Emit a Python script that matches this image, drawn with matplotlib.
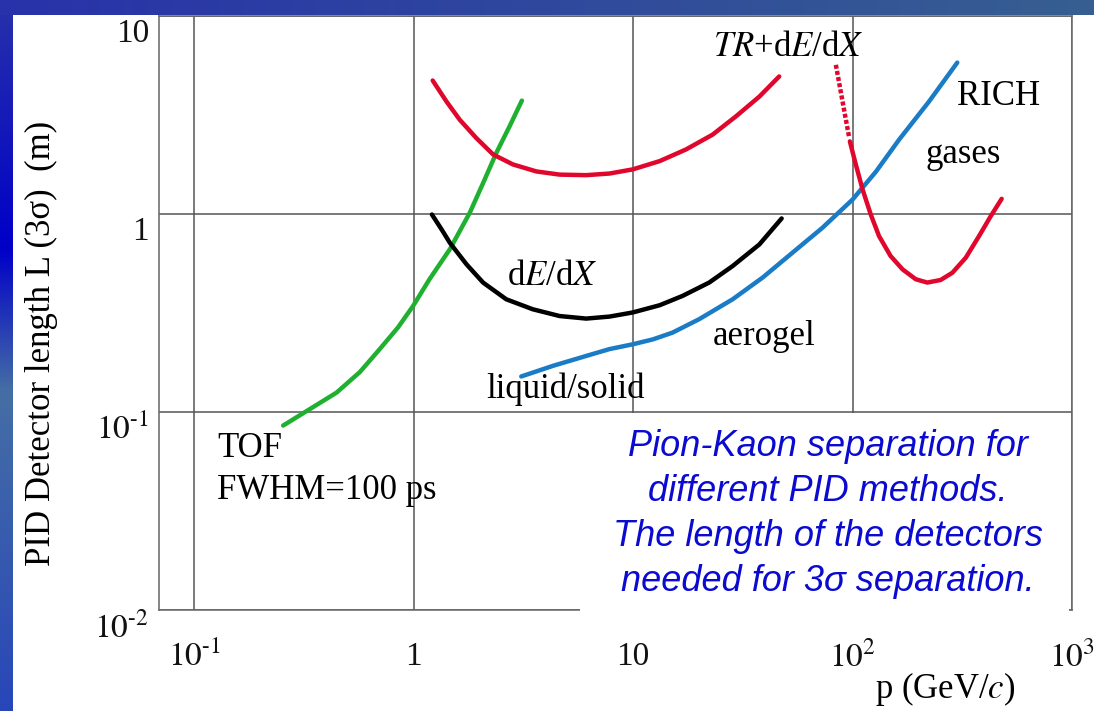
import matplotlib

matplotlib.use("Agg")
import matplotlib.pyplot as plt
import numpy as np
from matplotlib.patches import Rectangle
from matplotlib.ticker import FixedLocator, FuncFormatter, NullLocator
from matplotlib.transforms import ScaledTranslation

plt.rcParams["font.family"] = ["Liberation Serif", "DejaVu Serif"]
plt.rcParams["mathtext.fontset"] = "stix"

# Momentum p (GeV/c) and detector length L (m)
tof_p = [0.254, 0.336, 0.445, 0.568, 0.700, 0.848, 0.993, 1.18, 1.46, 1.80,
         2.07, 2.38, 2.73, 3.11]
tof_L = [0.0859, 0.104, 0.126, 0.160, 0.209, 0.269, 0.345, 0.471, 0.667,
         1.02, 1.44, 2.05, 2.78, 3.76]

tr_p = [1.22, 1.41, 1.62, 1.93, 2.30, 2.83, 3.62, 4.62, 6.11, 7.80, 9.96,
        13.2, 17.4, 23.0, 29.4, 37.6, 46.3]
tr_L = [4.75, 3.72, 3.01, 2.43, 2.01, 1.79, 1.65, 1.59, 1.58, 1.61, 1.69,
        1.86, 2.13, 2.53, 3.13, 3.94, 4.98]

dedx_p = [1.21, 1.34, 1.46, 1.74, 2.07, 2.64, 3.49, 4.62, 6.11, 7.80, 9.96,
          13.2, 16.8, 22.2, 28.4, 37.6, 47.5]
dedx_L = [1.0, 0.840, 0.720, 0.560, 0.453, 0.373, 0.332, 0.307, 0.298, 0.305,
          0.320, 0.348, 0.388, 0.453, 0.549, 0.706, 0.955]

rich_p = [3.09, 4.31, 6.11, 7.80, 9.96, 12.3, 15.1, 20.0, 28.4, 38.9, 53.2,
          72.9, 100, 128, 163, 223, 300]
rich_L = [0.152, 0.172, 0.193, 0.209, 0.221, 0.234, 0.253, 0.296, 0.373,
          0.480, 0.641, 0.857, 1.19, 1.65, 2.39, 3.72, 5.85]

gas_dash_p = [83.9, 90.0, 96.6]
gas_dash_L = [5.70, 3.72, 2.43]
gas_p = [97.2, 103, 111, 121, 132, 149, 169, 194, 219, 252, 285, 328, 377,
         426, 478]
gas_L = [2.34, 1.82, 1.34, 1.0, 0.778, 0.617, 0.528, 0.471, 0.453, 0.467,
         0.508, 0.605, 0.778, 0.980, 1.20]

x_ticks = [0.1, 1, 10, 100, 1000]
x_labels = [r"$10^{\text{-}1}$", "1", "10", r"$10^{2}$", r"$10^{3}$"]
y_ticks = [0.01, 0.1, 1, 10]
y_labels = [r"$10^{\text{-}2}$", r"$10^{\text{-}1}$", "1", "10"]

RED = "#e0062c"
GREEN = "#1fb030"
BLUE = "#1a7cc6"

fig = plt.figure(figsize=(10.94, 7.11), dpi=100)

# slide background: blue gradient frame with a white panel
bg = fig.add_axes([0, 0, 1, 1], zorder=-10)
h, w = 711, 1094
yy = np.linspace(0, 1, h)
xx = np.linspace(0, 1, w)
left_col = np.stack([
    np.interp(yy, [0, 0.35, 0.55, 1], c)
    for c in ([40, 0, 70, 40], [50, 0, 110, 70], [170, 200, 165, 185])
], axis=1)
top_row = np.stack([
    np.interp(xx, [0, 1], c) for c in ([40, 55], [50, 95], [170, 145])
], axis=1)
img = np.ones((h, w, 3)) * 255
img[:, :13, :] = left_col[:, None, :]
img[:15, :, :] = top_row[None, :, :]
bg.imshow(img.astype(np.uint8), aspect="auto", extent=[0, 1, 0, 1])
bg.axis("off")

ax = fig.add_axes([0.1453, 0.1414, 0.8346, 0.8354])
ax.set_xscale("log")
ax.set_yscale("log")
ax.set_xlim(0.069, 1000)
ax.set_ylim(0.01, 10)

ax.xaxis.set_major_locator(FixedLocator(x_ticks))
ax.yaxis.set_major_locator(FixedLocator(y_ticks))
ax.xaxis.set_minor_locator(NullLocator())
ax.yaxis.set_minor_locator(NullLocator())
ax.xaxis.set_major_formatter(FuncFormatter(lambda v, i: x_labels[i]))
ax.yaxis.set_major_formatter(FuncFormatter(lambda v, i: y_labels[i]))
ax.tick_params(length=0, labelsize=24, colors="#111111")
ax.tick_params(axis="x", pad=22)
ax.tick_params(axis="y", pad=7)
shift = ScaledTranslation(0, -10 / 72, fig.dpi_scale_trans)
for lab in ax.get_yticklabels():
    lab.set_transform(lab.get_transform() + shift)
ax.grid(True, color="#555555", linewidth=1.1)
for s in ax.spines.values():
    s.set_color("#666666")
    s.set_linewidth(1.1)

line_kw = dict(lw=3.2, solid_capstyle="round", solid_joinstyle="round",
               zorder=4)
ax.plot(tof_p, tof_L, color=GREEN, **line_kw)
ax.plot(tr_p, tr_L, color=RED, **line_kw)
ax.plot(dedx_p, dedx_L, color="black", **line_kw)
ax.plot(rich_p, rich_L, color=BLUE, **line_kw)
ax.plot(gas_dash_p, gas_dash_L, color=RED, lw=3.2, ls=(0, (0.9, 0.5)),
        zorder=4)
ax.plot(gas_p, gas_L, color=RED, **line_kw)

fs = 25
ax.text(23, 7.0, r"$TR$+d$E$/d$X$", fontsize=fs, va="center")
ax.text(299, 3.93, "RICH", fontsize=fs, va="center")
ax.text(216, 2.0, "gases", fontsize=fs, va="center")
ax.text(2.65, 0.487, r"d$E$/d$X$", fontsize=fs, va="center")
ax.text(23, 0.243, "aerogel", fontsize=fs, va="center")
ax.text(2.15, 0.131, "liquid/solid", fontsize=fs, va="center")
ax.text(0.127, 0.0655, "TOF", fontsize=fs, va="center")
ax.text(0.127, 0.0402, "FWHM=100 ps", fontsize=fs, va="center")

# white note box over the lower right corner
ax.add_patch(Rectangle((0.461, -0.003), 0.5357, 0.3355, transform=ax.transAxes,
                       facecolor="white", edgecolor="none", zorder=3,
                       clip_on=False))
ax.text(0.733, 0.163,
        "Pion-Kaon separation for\ndifferent PID methods.\n"
        "The length of the detectors\nneeded for 3\u03c3 separation.",
        transform=ax.transAxes, ha="center", va="center", fontsize=26,
        family=["Liberation Sans", "DejaVu Sans"], style="italic",
        color="#0a0ad0", linespacing=1.37, zorder=5)

ax.set_ylabel("PID Detector length L (3\u03c3)  (m)", fontsize=fs)
ax.yaxis.set_label_coords(-0.1106, 0.449)
ax.set_xlabel(r"p (GeV/$c$)", fontsize=fs)
ax.xaxis.set_label_coords(0.861, -0.1)

fig.savefig("out.png", dpi=100)
